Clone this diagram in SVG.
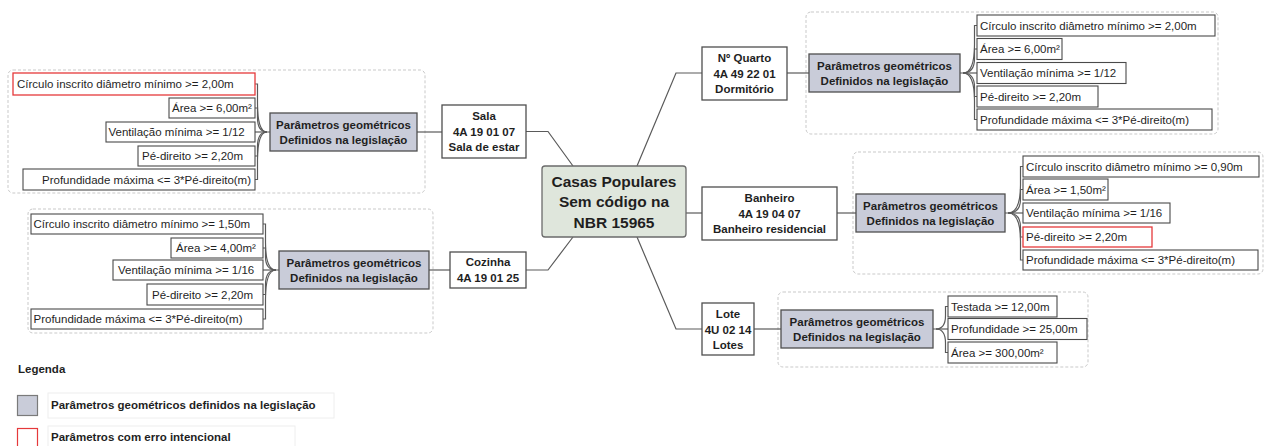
<svg xmlns="http://www.w3.org/2000/svg" width="1266" height="446" viewBox="0 0 1266 446">
  <style>
    text { font-family: "Liberation Sans", Arial, sans-serif; fill: #1f1f1f; }
    .leaf rect { fill: #ffffff; stroke: #4a4a4a; stroke-width: 1.1; }
    .leaf text { font-size: 11.5px; }
    .leaf.err rect { stroke: #e5393b; stroke-width: 1.3; }
    .param rect { fill: #c9ccd9; stroke: #4f4f4f; stroke-width: 1.3; }
    .param text, .node text { font-size: 11.5px; font-weight: bold; text-anchor: middle; }
    .node rect { fill: #ffffff; stroke: #4f4f4f; stroke-width: 1.3; }
    .root rect { fill: #dfe6dc; stroke: #6b6b6b; stroke-width: 1.3; }
    .root text { font-size: 15.5px; font-weight: bold; text-anchor: middle; }
    .frame { fill: none; stroke: #c9c9c9; stroke-width: 1; stroke-dasharray: 3 2; }
    #connectors path { fill: none; stroke: #5a5a5a; stroke-width: 1.2; }
    .legend text { font-size: 11.5px; font-weight: bold; }
    .legend .bg { fill: #ffffff; stroke: #eeeeee; stroke-width: 1; }
  </style>

  <!-- dashed frames around each parameter cluster -->
  <g id="frames">
    <rect class="frame" x="8" y="70" width="417" height="123" rx="5"/>
    <rect class="frame" x="28" y="209" width="405" height="124" rx="5"/>
    <rect class="frame" x="806" y="12" width="412" height="122" rx="5"/>
    <rect class="frame" x="853" y="152" width="410" height="122" rx="5"/>
    <rect class="frame" x="778" y="292" width="310" height="75" rx="5"/>
  </g>

  <g id="connectors">
    <!-- root to rooms -->
    <path d="M526 131.5 H548 L573 166"/>
    <path d="M526 270 H548 L573 237"/>
    <path d="M637 166 L676 73 H702"/>
    <path d="M686 213 H702"/>
    <path d="M637 237 L676 329 H702"/>
    <!-- rooms to parameter boxes -->
    <path d="M417 132 H442"/>
    <path d="M429 270 H450"/>
    <path d="M787 73 H809"/>
    <path d="M837 213 H856"/>
    <path d="M754 329 H781"/>
    <!-- Sala parameters -->
    <path d="M270 132 H267 C259.5 132 257.5 117.6 257.5 103.2 V84 H255"/>
    <path d="M267 132 C259.5 132 257.5 124.8 257.5 117.6 V108 H255"/>
    <path d="M267 132 H255"/>
    <path d="M267 132 C259.5 132 257.5 139.2 257.5 146.4 V156 H255"/>
    <path d="M267 132 C259.5 132 257.5 146.3 257.5 160.5 V179.5 H255"/>
    <!-- Cozinha parameters -->
    <path d="M279 270 H276 C267.5 270 265.5 256.2 265.5 242.4 V224 H263"/>
    <path d="M276 270 C267.5 270 265.5 263.4 265.5 256.8 V248 H263"/>
    <path d="M276 270 H263"/>
    <path d="M276 270 C267.5 270 265.5 277.4 265.5 284.7 V294.5 H263"/>
    <path d="M276 270 C267.5 270 265.5 284.7 265.5 299.4 V319 H263"/>
    <!-- Quarto parameters -->
    <path d="M960 73 H963 C972.5 73 974.5 58.8 974.5 44.5 V25.5 H977"/>
    <path d="M963 73 C972.5 73 974.5 65.8 974.5 58.6 V49 H977"/>
    <path d="M963 73 H977"/>
    <path d="M963 73 C972.5 73 974.5 80 974.5 87.1 V96.5 H977"/>
    <path d="M963 73 C972.5 73 974.5 87 974.5 100.9 V119.5 H977"/>
    <!-- Banheiro parameters -->
    <path d="M1005 213 H1008 C1018.5 213 1020.5 199 1020.5 185.1 V166.5 H1023"/>
    <path d="M1008 213 C1018.5 213 1020.5 206 1020.5 198.9 V189.5 H1023"/>
    <path d="M1008 213 H1023"/>
    <path d="M1008 213 C1018.5 213 1020.5 220.2 1020.5 227.4 V237 H1023"/>
    <path d="M1008 213 C1018.5 213 1020.5 227.1 1020.5 241.2 V260 H1023"/>
    <!-- Lote parameters -->
    <path d="M933 329 H936 C943.5 329 945.5 322.3 945.5 315.5 V306.5 H948"/>
    <path d="M936 329 H948"/>
    <path d="M936 329 C943.5 329 945.5 336 945.5 343.1 V352.5 H948"/>
  </g>

  <!-- root -->
  <g id="root" class="root">
    <rect x="542" y="166" width="144" height="71" rx="3"/>
    <text x="614" y="186.5">Casas Populares</text>
    <text x="614" y="207">Sem código na</text>
    <text x="614" y="227.5">NBR 15965</text>
  </g>

  <!-- rooms -->
  <g id="sala" class="node">
    <rect x="442" y="105" width="84" height="53"/>
    <text x="484" y="120">Sala</text>
    <text x="484" y="135.5">4A 19 01 07</text>
    <text x="484" y="151">Sala de estar</text>
  </g>
  <g id="cozinha" class="node">
    <rect x="450" y="252" width="76" height="36"/>
    <text x="488" y="266">Cozinha</text>
    <text x="488" y="281.5">4A 19 01 25</text>
  </g>
  <g id="quarto" class="node">
    <rect x="702" y="47" width="85" height="53"/>
    <text x="744.5" y="62">Nº Quarto</text>
    <text x="744.5" y="77.5">4A 49 22 01</text>
    <text x="744.5" y="93">Dormitório</text>
  </g>
  <g id="banheiro" class="node">
    <rect x="702" y="187" width="135" height="53"/>
    <text x="769.5" y="202">Banheiro</text>
    <text x="769.5" y="217.5">4A 19 04 07</text>
    <text x="769.5" y="233">Banheiro residencial</text>
  </g>
  <g id="lote" class="node">
    <rect x="702" y="303" width="52" height="52"/>
    <text x="728" y="318">Lote</text>
    <text x="728" y="333.5">4U 02 14</text>
    <text x="728" y="349">Lotes</text>
  </g>

  <!-- parameter boxes -->
  <g id="param-sala" class="param">
    <rect x="270" y="113" width="147" height="38"/>
    <text x="343.5" y="128.5">Parâmetros geométricos</text>
    <text x="343.5" y="143.5">Definidos na legislação</text>
  </g>
  <g id="param-cozinha" class="param">
    <rect x="279" y="251" width="150" height="38"/>
    <text x="354" y="266.5">Parâmetros geométricos</text>
    <text x="354" y="281.5">Definidos na legislação</text>
  </g>
  <g id="param-quarto" class="param">
    <rect x="809" y="54" width="151" height="38"/>
    <text x="884.5" y="69.5">Parâmetros geométricos</text>
    <text x="884.5" y="84.5">Definidos na legislação</text>
  </g>
  <g id="param-banheiro" class="param">
    <rect x="856" y="194" width="149" height="38"/>
    <text x="930.5" y="209.5">Parâmetros geométricos</text>
    <text x="930.5" y="224.5">Definidos na legislação</text>
  </g>
  <g id="param-lote" class="param">
    <rect x="781" y="310" width="152" height="38"/>
    <text x="857" y="325.5">Parâmetros geométricos</text>
    <text x="857" y="340.5">Definidos na legislação</text>
  </g>

  <!-- Sala leaves -->
  <g id="sala-circulo" class="leaf err">
    <rect x="13" y="73" width="242" height="22"/>
    <text x="17" y="88">Círculo inscrito diâmetro mínimo &gt;= 2,00m</text>
  </g>
  <g id="sala-area" class="leaf">
    <rect x="169" y="98" width="86" height="20"/>
    <text x="172" y="112">Área &gt;= 6,00m²</text>
  </g>
  <g id="sala-ventilacao" class="leaf">
    <rect x="106" y="122" width="149" height="20"/>
    <text x="108.5" y="136">Ventilação mínima &gt;= 1/12</text>
  </g>
  <g id="sala-pe-direito" class="leaf">
    <rect x="138" y="146" width="117" height="20"/>
    <text x="142" y="160">Pé-direito &gt;= 2,20m</text>
  </g>
  <g id="sala-profundidade" class="leaf">
    <rect x="23" y="169" width="232" height="21"/>
    <text x="42" y="183.5">Profundidade máxima &lt;= 3*Pé-direito(m)</text>
  </g>

  <!-- Cozinha leaves -->
  <g id="cozinha-circulo" class="leaf">
    <rect x="31" y="214" width="232" height="20"/>
    <text x="33.5" y="228">Círculo inscrito diâmetro mínimo &gt;= 1,50m</text>
  </g>
  <g id="cozinha-area" class="leaf">
    <rect x="171" y="238" width="92" height="20"/>
    <text x="176" y="252">Área &gt;= 4,00m²</text>
  </g>
  <g id="cozinha-ventilacao" class="leaf">
    <rect x="113" y="260" width="150" height="20"/>
    <text x="118" y="274">Ventilação mínima &gt;= 1/16</text>
  </g>
  <g id="cozinha-pe-direito" class="leaf">
    <rect x="147" y="284" width="116" height="21"/>
    <text x="152" y="298.5">Pé-direito &gt;= 2,20m</text>
  </g>
  <g id="cozinha-profundidade" class="leaf">
    <rect x="31" y="309" width="232" height="20"/>
    <text x="33.5" y="323">Profundidade máxima &lt;= 3*Pé-direito(m)</text>
  </g>

  <!-- Quarto leaves -->
  <g id="quarto-circulo" class="leaf">
    <rect x="977" y="15" width="238" height="21"/>
    <text x="980" y="29.5">Círculo inscrito diâmetro mínimo &gt;= 2,00m</text>
  </g>
  <g id="quarto-area" class="leaf">
    <rect x="977" y="38.5" width="85" height="21"/>
    <text x="980" y="53">Área &gt;= 6,00m²</text>
  </g>
  <g id="quarto-ventilacao" class="leaf">
    <rect x="977" y="62.5" width="149" height="21"/>
    <text x="980" y="77">Ventilação mínima &gt;= 1/12</text>
  </g>
  <g id="quarto-pe-direito" class="leaf">
    <rect x="977" y="86" width="121" height="21"/>
    <text x="980" y="100.5">Pé-direito &gt;= 2,20m</text>
  </g>
  <g id="quarto-profundidade" class="leaf">
    <rect x="977" y="109" width="235" height="21"/>
    <text x="980" y="123.5">Profundidade máxima &lt;= 3*Pé-direito(m)</text>
  </g>

  <!-- Banheiro leaves -->
  <g id="banheiro-circulo" class="leaf">
    <rect x="1023" y="156" width="236" height="21"/>
    <text x="1026" y="170.5">Círculo inscrito diâmetro mínimo &gt;= 0,90m</text>
  </g>
  <g id="banheiro-area" class="leaf">
    <rect x="1023" y="179" width="85" height="21"/>
    <text x="1026" y="193.5">Área &gt;= 1,50m²</text>
  </g>
  <g id="banheiro-ventilacao" class="leaf">
    <rect x="1023" y="203" width="147" height="20"/>
    <text x="1026" y="217">Ventilação mínima &gt;= 1/16</text>
  </g>
  <g id="banheiro-pe-direito" class="leaf err">
    <rect x="1023" y="227" width="129" height="20"/>
    <text x="1026" y="241">Pé-direito &gt;= 2,20m</text>
  </g>
  <g id="banheiro-profundidade" class="leaf">
    <rect x="1023" y="250" width="235" height="20"/>
    <text x="1026" y="264">Profundidade máxima &lt;= 3*Pé-direito(m)</text>
  </g>

  <!-- Lote leaves -->
  <g id="lote-testada" class="leaf">
    <rect x="948" y="296" width="109" height="21"/>
    <text x="951" y="310.5">Testada &gt;= 12,00m</text>
  </g>
  <g id="lote-profundidade" class="leaf">
    <rect x="948" y="318.5" width="139" height="21"/>
    <text x="951" y="333">Profundidade &gt;= 25,00m</text>
  </g>
  <g id="lote-area" class="leaf">
    <rect x="948" y="342" width="109" height="21"/>
    <text x="951" y="356.5">Área &gt;= 300,00m²</text>
  </g>

  <!-- legend -->
  <g id="legend" class="legend">
    <text x="18" y="373">Legenda</text>
    <rect x="17.5" y="395.5" width="20" height="20" fill="#c9ccd9" stroke="#7a7a7a" stroke-width="1.2"/>
    <rect class="bg" x="48" y="393" width="286" height="25"/>
    <text x="51" y="409">Parâmetros geométricos definidos na legislação</text>
    <rect x="17.5" y="428.5" width="20" height="20" fill="#ffffff" stroke="#e5393b" stroke-width="1.2"/>
    <rect class="bg" x="48" y="426" width="247" height="25"/>
    <text x="51" y="441">Parâmetros com erro intencional</text>
  </g>
</svg>
